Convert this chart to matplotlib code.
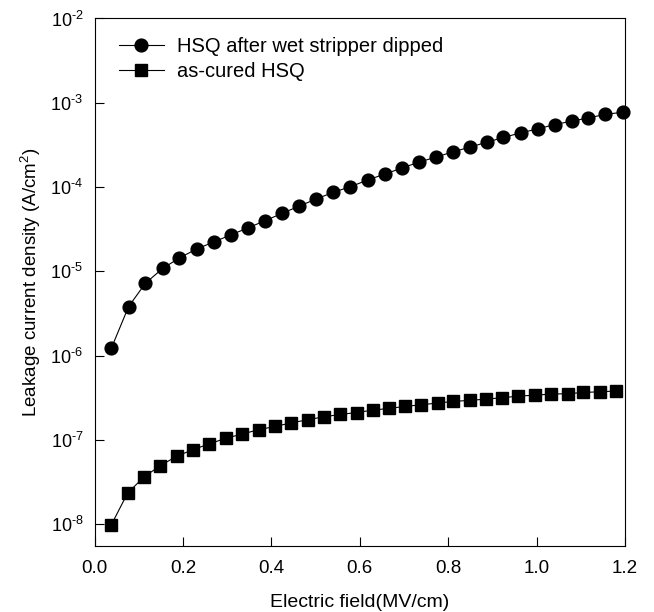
"""leakage current density vs electric field, HSQ films"""
import matplotlib
matplotlib.use("Agg")
import matplotlib.pyplot as plt

plt.rcParams['font.family'] = ['Liberation Sans', 'DejaVu Sans']
plt.rcParams['mathtext.fontset'] = 'custom'
plt.rcParams['mathtext.rm'] = 'Liberation Sans'
plt.rcParams['mathtext.it'] = 'Liberation Sans:italic'
plt.rcParams['mathtext.bf'] = 'Liberation Sans:bold'

# HSQ after wet stripper dipped
field_dipped = [0.038, 0.077, 0.115, 0.154, 0.192, 0.231, 0.270, 0.308, 0.347, 0.385,
                0.424, 0.463, 0.501, 0.540, 0.579, 0.618, 0.657, 0.696, 0.733, 0.772,
                0.810, 0.849, 0.887, 0.925, 0.964, 1.003, 1.041, 1.080, 1.117, 1.155, 1.196]
j_dipped = [1.22e-6, 3.8e-6, 7.2e-6, 1.08e-5, 1.44e-5, 1.84e-5, 2.23e-5, 2.70e-5, 3.27e-5, 3.97e-5,
            4.86e-5, 5.94e-5, 7.19e-5, 8.65e-5, 1.01e-4, 1.21e-4, 1.43e-4, 1.68e-4, 1.97e-4, 2.26e-4,
            2.61e-4, 2.97e-4, 3.40e-4, 3.87e-4, 4.40e-4, 4.90e-4, 5.52e-4, 6.05e-4, 6.62e-4, 7.26e-4, 7.75e-4]

# as-cured HSQ
field_cured = [0.038, 0.075, 0.112, 0.149, 0.186, 0.223, 0.260, 0.297, 0.334, 0.371,
               0.408, 0.445, 0.482, 0.519, 0.556, 0.593, 0.629, 0.666, 0.702, 0.739,
               0.776, 0.812, 0.849, 0.885, 0.922, 0.959, 0.996, 1.033, 1.070, 1.106, 1.143, 1.180]
j_cured = [9.8e-9, 2.34e-8, 3.63e-8, 4.95e-8, 6.38e-8, 7.67e-8, 8.96e-8, 1.045e-7, 1.17e-7, 1.32e-7,
           1.44e-7, 1.59e-7, 1.73e-7, 1.88e-7, 2.0e-7, 2.11e-7, 2.25e-7, 2.36e-7, 2.49e-7, 2.61e-7,
           2.73e-7, 2.86e-7, 2.94e-7, 3.04e-7, 3.16e-7, 3.30e-7, 3.39e-7, 3.49e-7, 3.53e-7, 3.65e-7,
           3.72e-7, 3.80e-7]

xtick_vals = [0.0, 0.2, 0.4, 0.6, 0.8, 1.0, 1.2]
ytick_exps = [-8, -7, -6, -5, -4, -3, -2]

fig = plt.figure(figsize=(6.54, 6.12), dpi=100)
ax = fig.add_axes([0.1445, 0.1078, 0.8112, 0.862])

ax.plot(field_dipped, j_dipped, color='k', lw=0.8, marker='o', ms=9.2,
        label="HSQ after wet stripper dipped", clip_on=False, zorder=3)
ax.plot(field_cured, j_cured, color='k', lw=0.8, marker='s', ms=8.4,
        label="as-cured HSQ", clip_on=False, zorder=3)

ax.set_yscale('log')
ax.set_xlim(0, 1.2)
ax.set_ylim(10**-8.26, 1e-2)
ax.set_xticks(xtick_vals)
ax.set_xticklabels([f"{v:.1f}" for v in xtick_vals])
ax.set_yticks([10.0**e for e in ytick_exps])
ax.set_yticklabels([r"10$^{\text{-%d}}$" % (-e) for e in ytick_exps])
ax.minorticks_off()
ax.tick_params(direction='in', length=6.5, width=0.8,
               top=False, right=False)
ax.tick_params(axis='x', pad=10, labelsize=13.5)
ax.tick_params(axis='y', pad=8, labelsize=13)
for s in ax.spines.values():
    s.set_linewidth(0.8)

ax.set_xlabel("Electric field(MV/cm)", fontsize=14, labelpad=12)
ax.set_ylabel(r"Leakage current density (A/cm$^2$)", fontsize=13.5, labelpad=5)

ax.legend(loc='upper left', frameon=False, fontsize=14.5, handlelength=2.24,
          handletextpad=0.63, labelspacing=0.3, borderaxespad=0, borderpad=0,
          bbox_to_anchor=(0.046, 0.965))

fig.savefig("out.png", dpi=100)
